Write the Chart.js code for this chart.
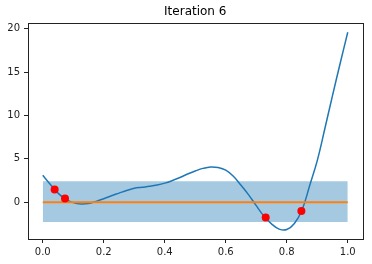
<!DOCTYPE html>
<html>
<head>
<meta charset="utf-8">
<script src="https://cdn.jsdelivr.net/npm/chart.js@4"></script>
<style>
html,body{margin:0;padding:0;background:#fff;}
#wrap{width:372px;height:264px;}
</style>
</head>
<body>
<div id="wrap"><canvas id="c" width="372" height="264"></canvas></div>
<script>
const title = "Iteration 6";
const curveX = [0,0.025,0.05,0.075,0.1,0.125,0.15,0.175,0.2,0.225,0.25,0.275,0.3,0.325,0.35,0.375,0.4,0.425,0.45,0.475,0.5,0.525,0.55,0.575,0.6,0.625,0.65,0.675,0.7,0.725,0.75,0.775,0.8,0.825,0.85,0.875,0.9,0.925,0.95,0.975,1.0];
const curveY = [3.1,2.05,1.05,0.35,-0.05,-0.2,-0.15,0.1,0.4,0.75,1.05,1.35,1.6,1.72,1.83,1.98,2.2,2.5,2.85,3.25,3.6,3.9,4.07,4.0,3.7,3.0,1.95,0.85,-0.4,-1.6,-2.5,-3.1,-3.15,-2.45,-0.9,1.9,4.8,8.5,12.3,16.0,19.6];
const obsX = [0.039,0.073,0.731,0.848];
const obsY = [1.46,0.44,-1.77,-1.0];
const bandX = [0,1];
const bandUpper = [2.42,2.42];
const bandLower = [-2.27,-2.27];
const zeroX = [0,1];
const zeroY = [0,0];
const xTicks = [0,0.2,0.4,0.6,0.8,1.0];
const yTicks = [0,5,10,15,20];

const pts = (xs, ys) => xs.map((x,i)=>({x:x,y:ys[i]}));

const frame = {
  id:'frame',
  afterDatasetsDraw(chart){
    const a = chart.chartArea, ctx = chart.ctx;
    ctx.save();
    ctx.strokeStyle = '#222';
    ctx.lineWidth = 1;
    ctx.strokeRect(Math.round(a.left)+0.5, Math.round(a.top)+0.5, Math.round(a.right-a.left)-1, Math.round(a.bottom-a.top)-1);
    ctx.restore();
  }
};

const FONT = {family:'DejaVu Sans', size:10};

new Chart(document.getElementById('c'), {
  type:'line',
  data:{
    datasets:[
      {label:'obs', data:pts(obsX,obsY), showLine:false, pointRadius:4, pointBackgroundColor:'#ff0000', pointBorderWidth:0, borderColor:'#ff0000', order:0},
      {label:'zero', data:pts(zeroX,zeroY), borderColor:'#ff7f0e', borderWidth:2, pointRadius:0, order:1},
      {label:'upper', data:pts(bandX,bandUpper), borderWidth:0, borderColor:'rgba(0,0,0,0)', pointRadius:0, fill:'+1', backgroundColor:'rgba(31,119,180,0.4)', order:2},
      {label:'lower', data:pts(bandX,bandLower), borderWidth:0, borderColor:'rgba(0,0,0,0)', pointRadius:0, order:3},
      {label:'mean', data:pts(curveX,curveY), borderColor:'#1f77b4', borderWidth:1.5, pointRadius:0, tension:0.4, order:4}
    ]
  },
  options:{
    responsive:false,
    animation:false,
    devicePixelRatio:1,
    layout:{padding:{left:0,right:9,top:0,bottom:0}},
    plugins:{
      legend:{display:false},
      tooltip:{enabled:false},
      title:{display:true, text:title, fullSize:false, color:'#000', font:{family:'DejaVu Sans', size:12, weight:'normal'}, padding:{top:5,bottom:3.5}}
    },
    scales:{
      x:{
        type:'linear', min:-0.05, max:1.05,
        afterBuildTicks(s){ s.ticks = xTicks.map(v=>({value:v})); },
        afterFit(s){ s.height = 24.5; },
        grid:{display:true, drawOnChartArea:false, drawTicks:true, tickLength:3.5, color:'#222'},
        border:{display:false},
        ticks:{color:'#222', font:FONT, padding:3.5, maxRotation:0, callback:(v)=>Number(v).toFixed(1)}
      },
      y:{
        type:'linear', min:-4.3, max:20.68,
        afterBuildTicks(s){ s.ticks = yTicks.map(v=>({value:v})); },
        afterFit(s){ s.width = 27.5; },
        grid:{display:true, drawOnChartArea:false, drawTicks:true, tickLength:3.5, color:'#222'},
        border:{display:false},
        ticks:{color:'#222', font:FONT, padding:4, callback:(v)=>String(v)}
      }
    }
  },
  plugins:[frame]
});
</script>
</body>
</html>
